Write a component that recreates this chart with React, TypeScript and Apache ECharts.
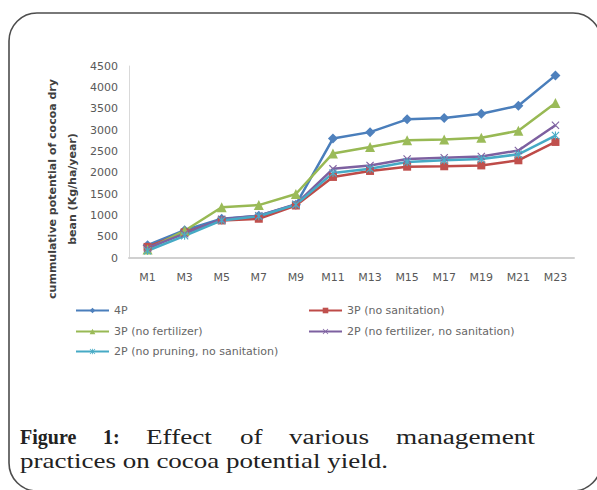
import React, { useEffect, useRef } from "react";
import * as echarts from "echarts";

const categories = ["M1", "M3", "M5", "M7", "M9", "M11", "M13", "M15", "M17", "M19", "M21", "M23"];
const yTicks = { min: 0, max: 4500, interval: 500 };

const s4P = [300, 650, 920, 990, 1250, 2800, 2950, 3250, 3280, 3380, 3570, 4280];
const s3PnoSan = [260, 600, 880, 920, 1230, 1900, 2040, 2140, 2150, 2170, 2290, 2720];
const s3PnoFert = [200, 640, 1190, 1240, 1500, 2450, 2600, 2760, 2780, 2820, 2980, 3630];
const s2PnoFertNoSan = [230, 570, 910, 990, 1260, 2090, 2170, 2320, 2350, 2380, 2520, 3110];
const s2PnoPrunNoSan = [170, 520, 880, 980, 1250, 1990, 2090, 2250, 2290, 2320, 2430, 2870];

const names = [
  "4P",
  "3P (no sanitation)",
  "3P (no fertilizer)",
  "2P (no fertilizer, no sanitation)",
  "2P (no pruning, no sanitation)",
];

const yTitle1 = "cummulative potential of cocoa dry";
const yTitle2 = "bean (Kg/ha/year)";

const captionLine1 = [
  { w: "Figure", bold: true, x: 20 },
  { w: "1:", bold: true, x: 103 },
  { w: "Effect", bold: false, x: 146 },
  { w: "of", bold: false, x: 240 },
  { w: "various", bold: false, x: 289 },
  { w: "management", bold: false, x: 396 },
];
const captionLine2 = "practices on cocoa potential yield.";

const X_PATH = "path://M0,1L1,0L5,4L9,0L10,1L6,5L10,9L9,10L5,6L1,10L0,9L4,5Z";
const STAR_PATH = "path://M0,1L1,0L5,4L9,0L10,1L6,5L10,9L9,10L5,6L1,10L0,9L4,5Z M4.3,0H5.7V10H4.3Z";

export default function App() {
  const ref = useRef<HTMLDivElement>(null);
  useEffect(() => {
    if (!ref.current) return;
    const chart = echarts.init(ref.current, undefined, { renderer: "svg" });
    const lineFont = "DejaVu Sans";
    const mk = (name: string, data: number[], color: string, lineColor: string, symbol: string, size: number) => ({
      type: "line",
      name,
      data,
      symbol,
      symbolSize: size,
      showSymbol: true,
      itemStyle: { color },
      lineStyle: { color: lineColor, width: 2.5 },
    });
    const legendPos = [
      { left: 75, top: 305 },
      { left: 308, top: 305 },
      { left: 75, top: 326 },
      { left: 308, top: 326 },
      { left: 75, top: 346 },
    ];
    const legends = names.map((n, i) => ({
      data: [n],
      left: legendPos[i].left,
      top: legendPos[i].top,
      padding: 0,
      itemWidth: 33,
      itemHeight: 7,
      itemGap: 0,
      textStyle: { fontFamily: lineFont, fontSize: 11, color: "#666666" },
    }));
    const graphics: any[] = [
      {
        type: "rect",
        shape: { x: 9, y: 13, width: 592, height: 478, r: 28 },
        style: { fill: "none", stroke: "#4d4d4d", lineWidth: 1.6 },
        z: -1,
      },
      {
        type: "text",
        x: 52,
        y: 189,
        rotation: Math.PI / 2,
        style: { text: yTitle1, fontFamily: lineFont, fontWeight: "bold", fontSize: 11, fill: "#404040", align: "center", verticalAlign: "middle" },
      },
      {
        type: "text",
        x: 72,
        y: 189,
        rotation: Math.PI / 2,
        style: { text: yTitle2, fontFamily: lineFont, fontWeight: "bold", fontSize: 11, fill: "#404040", align: "center", verticalAlign: "middle" },
      },
      ...captionLine1.map((c) => ({
        type: "text",
        x: c.x,
        y: 437,
        scaleX: c.bold ? 1.0 : 1.36,
        style: {
          text: c.w,
          fontFamily: "Liberation Serif",
          fontWeight: c.bold ? "bold" : "normal",
          fontSize: 20,
          fill: "#222",
          align: "left",
          verticalAlign: "middle",
        },
      })),
      {
        type: "text",
        x: 20,
        y: 461,
        scaleX: 1.35,
        style: { text: captionLine2, fontFamily: "Liberation Serif", fontSize: 20, fill: "#222", align: "left", verticalAlign: "middle" },
      },
    ];
    chart.setOption({
      animation: false,
      backgroundColor: "#ffffff",
      grid: { left: 129, right: 23, top: 66, bottom: 232 },
      legend: legends,
      xAxis: {
        type: "category",
        data: categories,
        boundaryGap: true,
        axisLine: { lineStyle: { color: "#d0d0d0", width: 2 } },
        axisTick: { show: false },
        axisLabel: { fontFamily: lineFont, fontSize: 11, color: "#595959", margin: 14 },
      },
      yAxis: {
        type: "value",
        min: yTicks.min,
        max: yTicks.max,
        interval: yTicks.interval,
        axisLine: { show: true, lineStyle: { color: "#d9d9d9", width: 1 } },
        axisTick: { show: false },
        splitLine: { show: false },
        axisLabel: { fontFamily: lineFont, fontSize: 11, color: "#595959", margin: 11, formatter: (v: number) => String(v) },
      },
      graphic: graphics,
      series: [
        mk(names[0], s4P, "#4F81BD", "#4A7EBB", "diamond", 10),
        mk(names[1], s3PnoSan, "#C0504D", "#BE4B48", "rect", 8),
        mk(names[2], s3PnoFert, "#9BBB59", "#98B954", "triangle", 10),
        mk(names[3], s2PnoFertNoSan, "#8064A2", "#7D60A0", X_PATH, 8),
        mk(names[4], s2PnoPrunNoSan, "#4BACC6", "#46AAC5", STAR_PATH, 8),
      ],
    });
    return () => chart.dispose();
  }, []);
  return <div ref={ref} style={{ position: "fixed", left: 0, top: 0, width: 597, height: 490 }} />;
}
